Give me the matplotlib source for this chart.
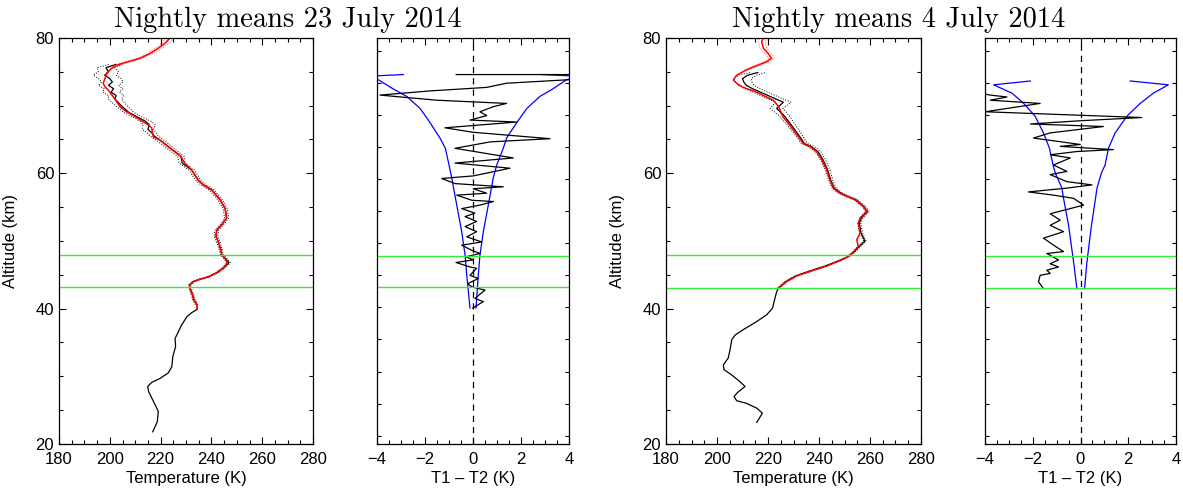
import numpy as np
import matplotlib
matplotlib.use("Agg")
import matplotlib.pyplot as plt
from matplotlib.ticker import MultipleLocator, NullFormatter

# ------------------------------
# 23 July 2014
# ------------------------------
# lidar 1 profile (black) and its error (dotted, above 40 km)
alt_a = [21.8, 23.3, 24.8, 25.3, 26.5, 27.75, 28.5, 29.1, 29.7, 30.5,
         31.4, 32.9, 34.4, 35.6, 36.6, 37.6, 38.8, 39.4, 39.9, 40.6,
         41.3, 42.0, 43.0, 43.5, 44.0, 44.35, 44.7, 45.3, 46.0, 46.8,
         47.45, 47.95, 48.7, 49.9, 50.65, 51.6, 52.4, 53.4, 54.8, 56.1,
         57.55, 58.3, 59.0, 60.5, 61.5, 62.5, 63.0, 63.95, 64.9, 65.5,
         66.0, 66.5, 67.2, 67.7, 68.3, 69.0, 70.0, 71.0, 71.5, 72.0,
         72.5, 73.0, 73.5, 74.0, 74.5, 75.0, 75.6, 76.1]
temp_a = [216.9, 218.7, 219.1, 218.5, 216.9, 215.3, 214.9, 216.5, 219.8, 223.0,
          224.4, 224.8, 225.9, 225.7, 227.0, 228.3, 230.3, 232.2, 234.4, 234.2,
          233.1, 232.6, 231.6, 231.4, 232.9, 235.5, 238.8, 242.1, 244.7, 246.9,
          245.4, 244.1, 243.7, 242.7, 241.8, 242.1, 244.1, 246.0, 245.4, 243.4,
          240.1, 236.8, 234.8, 232.2, 228.5, 228.0, 226.3, 223.0, 219.8, 217.5,
          216.5, 215.0, 215.5, 214.0, 211.0, 207.5, 204.5, 202.0, 202.5, 200.5,
          201.5, 199.5, 201.0, 200.0, 198.0, 199.5, 198.5, 202.4]
err_a = [0.5, 0.5, 0.5, 0.5, 0.5, 0.5, 0.5, 0.5, 0.6, 0.6,
         0.6, 0.6, 0.6, 0.6, 0.7, 0.7, 0.7, 0.7, 0.8, 0.8,
         0.9, 0.9, 1.0, 1.0, 1.1, 1.2, 1.3, 1.3, 1.4, 1.5,
         1.6, 1.8, 2.2, 2.4, 2.2, 1.8, 2.0, 2.3, 2.6, 3.0,
         3.3, 3.6, 4.0, 4.2, 4.5, 4.5, 4.0, 3.5, 2.5]
# lidar 2 profile (red)
alt_a_red = [39.9, 40.6, 41.3, 42.0, 43.0, 43.5, 44.0, 44.35, 44.7, 45.3,
             46.0, 46.8, 47.45, 47.95, 48.7, 49.9, 50.65, 51.6, 52.4, 53.4,
             54.8, 56.1, 57.55, 58.3, 59.0, 60.5, 61.5, 62.5, 63.0, 63.95,
             64.9, 65.4, 66.7, 67.15, 67.6, 68.4, 69.1, 69.85, 70.6, 71.3,
             72.3, 72.8, 73.3, 74.0, 74.8, 75.5, 76.0, 76.5, 77.0, 77.7,
             78.5, 79.2, 80.0]
temp_a_red = [234.4, 234.2, 233.1, 232.6, 231.6, 231.4, 232.9, 235.5, 238.8, 242.1,
              244.7, 246.3, 245.2, 244.1, 243.7, 242.7, 241.8, 242.1, 244.1, 246.0,
              245.4, 243.4, 240.1, 236.8, 234.8, 232.2, 229.5, 228.0, 226.3, 223.0,
              219.8, 217.1, 216.5, 215.2, 213.2, 209.9, 206.6, 204.0, 202.7, 201.4,
              199.4, 198.1, 197.4, 198.1, 198.8, 200.7, 202.7, 207.3, 211.9, 215.8,
              219.1, 221.7, 223.7]
err_a_red = [0.8, 0.9, 1.0, 1.1, 1.2, 1.3, 1.4, 1.5]  # top 8 points

# T1 - T2 and its uncertainty
alt_a_diff = [39.9, 40.9, 41.4, 42.7, 43.2, 43.7, 44.5, 45.0, 46.1, 46.3,
              47.0, 47.4, 47.9, 48.4, 48.9, 49.7, 50.2, 51.0, 51.8, 52.6,
              53.4, 54.15, 54.7, 55.4, 55.95, 56.5, 56.7, 57.5, 57.8, 58.5,
              58.8, 59.3, 60.1, 60.5, 61.7, 62.5, 63.3, 64.8, 65.8, 66.3,
              67.3, 68.0, 68.9, 69.2, 69.9, 70.5, 71.3, 71.8, 72.3, 73.1,
              73.75, 74.3, 74.95, 75.6, 76.3, 76.3]
diff_a = [-0.01, 0.43, 0.08, 0.5, -0.05, -0.22, 0.22, -0.125, 0.15, -0.125,
          -0.71, 0.01, -0.29, 0.29, -0.05, -0.47, 0.36, -0.26, 0.15, -0.33,
          0.15, -0.33, 0.08, -0.47, 0.29, 0.85, -0.05, -0.68, 0.57, 0.01,
          1.26, -0.75, -1.3, 0.01, 1.54, -0.75, 1.68, -0.75, 0.71, 3.21,
          0.01, -1.17, 1.82, -0.125, 0.57, 0.29, 0.85, 1.4, -1.51, -3.875,
          -1.79, 0.57, 1.4, 4.5, 4.5, -0.7]
alt_a_sig = [39.9, 45.0, 48.15, 51.8, 56.0, 60.3, 62.2, 64.8, 66.4, 68.8,
             71.0, 72.9, 74.0, 75.5, 76.0, 76.3]
sig_a_hi = [0.125, 0.22, 0.29, 0.43, 0.64, 0.85, 0.99, 1.26, 1.40, 1.82,
            2.24, 2.79, 3.3, 3.9, 4.6, 2.86]
sig_a_lo = [-0.125, -0.26, -0.33, -0.47, -0.68, -0.89, -1.0, -1.15, -1.375, -1.79,
            -2.2, -2.76, -3.3, -3.95, -4.6, -2.9]
band_a = [43.2, 48.0]

# ------------------------------
# 4 July 2014
# ------------------------------
alt_b = [23.2, 24.55, 25.3, 26.0, 26.4, 27.0, 27.6, 28.5, 29.2, 30.2,
         31.0, 31.7, 32.7, 33.9, 35.4, 36.1, 36.9, 38.1, 39.1, 40.1,
         41.05, 42.5, 43.0, 44.0, 44.85, 45.5, 46.3, 47.1, 47.7, 48.4,
         49.2, 50.0, 51.15, 52.6, 53.4, 54.35, 55.1, 56.1, 56.6, 57.05,
         57.8, 59.0, 60.5, 62.0, 63.2, 63.95, 64.4, 65.4, 66.4, 67.4,
         68.4, 69.6, 70.5, 71.0, 71.5, 72.0, 72.5, 73.0, 73.5, 74.0,
         74.5, 74.9]
temp_b = [215.6, 217.8, 215.6, 211.6, 207.7, 206.7, 208.0, 211.0, 209.0, 205.8,
          202.7, 202.5, 204.4, 205.1, 205.8, 207.1, 210.3, 215.6, 219.5, 221.8,
          222.4, 223.4, 224.0, 227.0, 231.0, 236.0, 242.5, 248.0, 251.5, 253.8,
          255.8, 258.0, 256.5, 255.8, 256.6, 259.0, 257.6, 254.5, 251.2, 248.6,
          246.0, 244.6, 243.4, 241.6, 239.6, 237.0, 234.3, 232.5, 230.6, 228.6,
          226.6, 223.4, 226.0, 223.0, 220.0, 217.0, 214.0, 211.5, 210.5, 210.0,
          212.0, 216.0]
err_b = [0.5, 0.5, 0.5, 0.5, 0.5, 0.5, 0.5, 0.5, 0.5, 0.5,
         0.6, 0.6, 0.6, 0.7, 0.7, 0.7, 0.7, 0.8, 0.8, 0.8,
         0.9, 1.0, 1.1, 1.2, 1.2, 1.3, 1.5, 1.7, 2.0, 2.5,
         3.0, 3.0, 2.8, 2.8, 3.0, 3.0, 3.2, 3.5, 3.5, 3.0]
alt_b_red = [43.0, 44.0, 44.85, 45.5, 46.3, 47.1, 47.7, 48.4, 49.2, 50.2,
             51.15, 52.6, 53.4, 54.35, 55.1, 56.1, 56.6, 57.05, 57.8, 59.0,
             60.5, 62.0, 63.2, 63.95, 64.4, 65.4, 66.4, 67.4, 68.4, 69.4,
             69.95, 70.8, 71.4, 72.1, 72.7, 73.3, 73.8, 74.5, 75.3, 76.0,
             76.5, 77.0, 77.7, 78.5, 79.45, 80.0]
temp_b_red = [224.0, 227.3, 231.3, 236.5, 243.0, 248.2, 251.5, 253.5, 255.4, 254.8,
              256.1, 255.4, 256.1, 258.7, 257.4, 254.1, 250.9, 248.2, 245.6, 244.3,
              243.0, 241.1, 239.1, 236.5, 233.8, 231.9, 229.9, 227.9, 225.8, 224.7,
              224.0, 222.1, 218.8, 214.9, 210.3, 207.7, 206.4, 207.7, 211.6, 216.2,
              219.5, 221.4, 220.1, 218.2, 217.5, 218.2]
err_b_red = [0.8, 0.9, 1.0, 1.1, 1.2, 1.3, 1.4, 1.5]

alt_b_diff = [42.9, 44.0, 45.0, 45.3, 45.8, 46.3, 46.8, 47.4, 48.4, 48.7,
              49.7, 50.8, 51.8, 52.8, 53.6, 54.6, 55.2, 55.95, 57.0, 57.5,
              58.0, 58.6, 59.1, 59.6, 60.7, 61.2, 62.2, 63.3, 63.8, 64.3,
              64.6, 65.1, 65.4, 66.4, 67.2, 68.2, 68.6, 69.1, 69.6, 70.5,
              71.8, 72.3, 72.8, 73.1, 73.6]
diff_b = [-1.55, -1.76, -1.69, -1.27, -1.41, -0.92, -1.27, -0.92, -1.41, -0.71,
          -1.13, -1.55, -0.71, -1.27, -0.85, -1.27, -0.64, 0.13, -0.29, -1.13,
          -2.18, -0.57, 0.48, -0.57, -1.27, -0.57, -1.13, -0.43, -1.27, -0.15,
          1.38, -0.85, -0.01, -1.97, -1.27, 0.96, -2.1, -0.01, 2.57, -3.99,
          -1.69, -3.78, -3.08, -3.78, -4.5]
alt_b_sig = [42.9, 47.1, 52.8, 57.0, 58.6, 61.0, 62.2, 64.8, 67.2, 69.8,
             71.8, 73.4, 74.7, 75.3]
sig_b_hi = [0.17, 0.27, 0.46, 0.63, 0.69, 0.88, 1.03, 1.17, 1.45, 1.94,
            2.5, 3.05, 3.68, 2.08]
sig_b_lo = [-0.15, -0.29, -0.5, -0.71, -0.78, -1.06, -1.15, -1.3, -1.55, -1.9,
            -2.38, -2.87, -3.64, -2.1]
band_b = [43.0, 48.0]

titles = ["Nightly means 23 July 2014", "Nightly means 4 July 2014"]

plt.rcParams["font.family"] = ["Liberation Sans", "DejaVu Sans"]
plt.rcParams["font.size"] = 12


def style_axes(ax):
    ax.tick_params(which="both", direction="in", top=True, right=True,
                   labelsize=12, width=0.8)
    ax.tick_params(axis="x", which="both", pad=6)
    ax.tick_params(which="major", length=5)
    ax.tick_params(which="minor", length=3)
    for s in ax.spines.values():
        s.set_linewidth(0.9)


def temp_panel(ax, alt, temp, err, alt_red, temp_red, err_red, band):
    alt = np.array(alt)
    temp = np.array(temp)
    n = len(err)
    err = np.array(err)
    # error envelope of the black profile
    ax.plot(temp[-n:] - err, alt[-n:], ":", color="k", lw=0.7)
    ax.plot(temp[-n:] + err, alt[-n:], ":", color="k", lw=0.7)
    ax.plot(temp, alt, color="k", lw=0.9)
    temp_red = np.array(temp_red)
    alt_red = np.array(alt_red)
    m = len(err_red)
    ax.plot(temp_red[-m:] - err_red, alt_red[-m:], ":", color="#ff6060", lw=0.7)
    ax.plot(temp_red[-m:] + err_red, alt_red[-m:], ":", color="#ff6060", lw=0.7)
    ax.plot(temp_red, alt_red, color="r", lw=1.1)
    for b in band:
        ax.axhline(b, color="#33ee33", lw=1.0)
    ax.set_xlim(180, 280)
    ax.set_ylim(20, 80)
    ax.xaxis.set_major_locator(MultipleLocator(20))
    ax.xaxis.set_minor_locator(MultipleLocator(5))
    ax.yaxis.set_major_locator(MultipleLocator(20))
    ax.yaxis.set_minor_locator(MultipleLocator(5))
    ax.set_xlabel("Temperature (K)", labelpad=3)
    ax.set_ylabel("Altitude (km)")
    ax.yaxis.set_label_coords(-0.161, 0.5)
    style_axes(ax)


def diff_panel(ax, alt, diff, alt_sig, hi, lo, band):
    ax.axvline(0, color="k", ls=(0, (5, 4)), lw=0.9)
    ax.plot(hi, alt_sig, color="b", lw=0.9)
    ax.plot(lo, alt_sig, color="b", lw=0.9)
    ax.plot(diff, alt, color="k", lw=0.9)
    for b in band:
        ax.axhline(b, color="#33ee33", lw=1.0)
    ax.set_xlim(-4, 4)
    ax.set_ylim(18.7, 82.0)
    ax.xaxis.set_major_locator(MultipleLocator(2))
    ax.xaxis.set_minor_locator(MultipleLocator(0.5))
    ax.yaxis.set_major_locator(MultipleLocator(5))
    ax.yaxis.set_major_formatter(NullFormatter())
    ax.set_xlabel("T1 \u2013 T2 (K)", labelpad=3)
    style_axes(ax)
    ax.tick_params(axis="y", which="major", length=3)


fig = plt.figure(figsize=(11.83, 4.88), dpi=100)
bot, h = 44 / 488, 406 / 488

ax1 = fig.add_axes([59 / 1183, bot, 254 / 1183, h])
temp_panel(ax1, alt_a, temp_a, err_a, alt_a_red, temp_a_red, err_a_red, band_a)
ax2 = fig.add_axes([377 / 1183, bot, 192 / 1183, h])
diff_panel(ax2, alt_a_diff, diff_a, alt_a_sig, sig_a_hi, sig_a_lo, band_a)

ax3 = fig.add_axes([666 / 1183, bot, 255 / 1183, h])
temp_panel(ax3, alt_b, temp_b, err_b, alt_b_red, temp_b_red, err_b_red, band_b)
ax4 = fig.add_axes([985 / 1183, bot, 191 / 1183, h])
diff_panel(ax4, alt_b_diff, diff_b, alt_b_sig, sig_b_hi, sig_b_lo, band_b)

fig.text(288 / 1183, 1 - 27 / 488, titles[0], family="cmr10", fontsize=20.5,
         ha="center", va="baseline")
fig.text(899 / 1183, 1 - 27 / 488, titles[1], family="cmr10", fontsize=20.5,
         ha="center", va="baseline")

fig.savefig("out.png", dpi=100)
